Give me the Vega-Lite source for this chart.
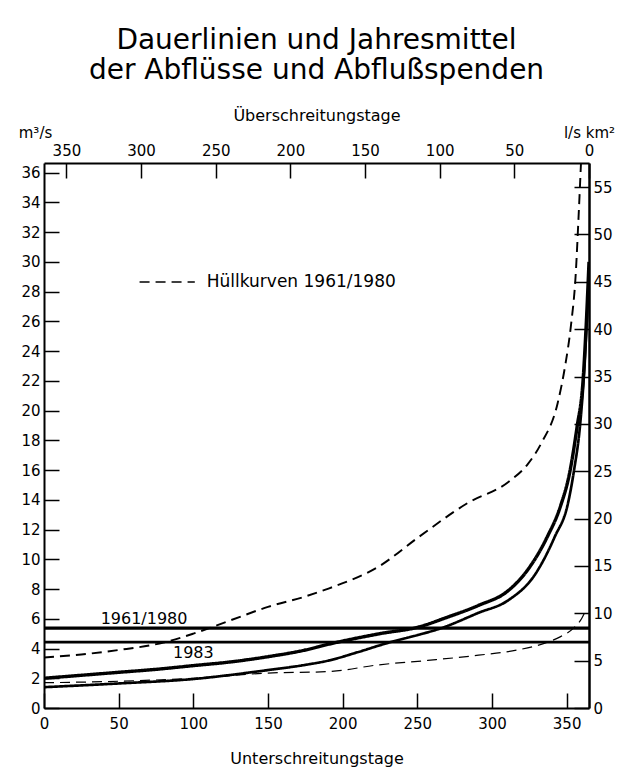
{
  "$schema": "https://vega.github.io/schema/vega-lite/v6.json",
  "width": 545,
  "height": 545,
  "autosize": {"type": "none"},
  "padding": {"left": 44, "top": 163, "right": 48, "bottom": 69},
  "background": "white",
  "title": {
    "text": ["Dauerlinien und Jahresmittel", "der Abflüsse und Abflußspenden"],
    "font": "DejaVu Sans",
    "fontSize": 28,
    "fontWeight": "normal",
    "lineHeight": 30,
    "anchor": "middle",
    "offset": 22,
    "color": "black"
  },
  "config": {
    "view": {"stroke": null},
    "font": "DejaVu Sans",
    "axis": {
      "grid": false,
      "domainColor": "black",
      "domainWidth": 2,
      "tickColor": "black",
      "tickWidth": 1.5,
      "tickSize": -15,
      "labelFont": "DejaVu Sans",
      "labelFontSize": 15,
      "labelColor": "black",
      "labelFlush": false,
      "labelOverlap": false,
      "titleFont": "DejaVu Sans",
      "titleFontSize": 16,
      "titleFontWeight": "normal",
      "titleColor": "black"
    }
  },
  "datasets": {
    "curves": [
      {"series": "Mittel 1961/1980", "day": 0, "q": 2.0},
      {"series": "Mittel 1961/1980", "day": 25, "q": 2.2},
      {"series": "Mittel 1961/1980", "day": 50, "q": 2.4},
      {"series": "Mittel 1961/1980", "day": 75, "q": 2.6},
      {"series": "Mittel 1961/1980", "day": 100, "q": 2.85},
      {"series": "Mittel 1961/1980", "day": 125, "q": 3.1},
      {"series": "Mittel 1961/1980", "day": 150, "q": 3.45},
      {"series": "Mittel 1961/1980", "day": 175, "q": 3.9},
      {"series": "Mittel 1961/1980", "day": 191, "q": 4.3},
      {"series": "Mittel 1961/1980", "day": 200, "q": 4.5},
      {"series": "Mittel 1961/1980", "day": 225, "q": 5.0},
      {"series": "Mittel 1961/1980", "day": 251, "q": 5.45},
      {"series": "Mittel 1961/1980", "day": 270, "q": 6.1},
      {"series": "Mittel 1961/1980", "day": 291, "q": 6.9},
      {"series": "Mittel 1961/1980", "day": 311, "q": 7.9},
      {"series": "Mittel 1961/1980", "day": 324, "q": 9.3},
      {"series": "Mittel 1961/1980", "day": 337, "q": 11.5},
      {"series": "Mittel 1961/1980", "day": 346, "q": 13.6},
      {"series": "Mittel 1961/1980", "day": 352, "q": 15.8},
      {"series": "Mittel 1961/1980", "day": 357, "q": 18.9},
      {"series": "Mittel 1961/1980", "day": 361, "q": 22},
      {"series": "Mittel 1961/1980", "day": 363, "q": 25.5},
      {"series": "Mittel 1961/1980", "day": 365, "q": 30},
      {"series": "1983", "day": 0, "q": 1.4},
      {"series": "1983", "day": 50, "q": 1.65},
      {"series": "1983", "day": 100, "q": 1.95},
      {"series": "1983", "day": 150, "q": 2.55},
      {"series": "1983", "day": 175, "q": 2.9},
      {"series": "1983", "day": 191, "q": 3.2},
      {"series": "1983", "day": 210, "q": 3.75},
      {"series": "1983", "day": 231, "q": 4.4},
      {"series": "1983", "day": 250, "q": 4.9},
      {"series": "1983", "day": 264, "q": 5.3},
      {"series": "1983", "day": 291, "q": 6.4},
      {"series": "1983", "day": 311, "q": 7.25},
      {"series": "1983", "day": 329, "q": 9.0},
      {"series": "1983", "day": 342, "q": 11.5},
      {"series": "1983", "day": 351, "q": 13.8},
      {"series": "1983", "day": 355, "q": 16},
      {"series": "1983", "day": 359, "q": 19},
      {"series": "1983", "day": 362, "q": 23},
      {"series": "1983", "day": 364, "q": 27},
      {"series": "1983", "day": 365, "q": 29},
      {"series": "Hüllkurve oben", "day": 0, "q": 3.4},
      {"series": "Hüllkurve oben", "day": 25, "q": 3.6},
      {"series": "Hüllkurve oben", "day": 50, "q": 3.9},
      {"series": "Hüllkurve oben", "day": 80, "q": 4.4},
      {"series": "Hüllkurve oben", "day": 100, "q": 5.0},
      {"series": "Hüllkurve oben", "day": 125, "q": 5.9},
      {"series": "Hüllkurve oben", "day": 150, "q": 6.8},
      {"series": "Hüllkurve oben", "day": 175, "q": 7.5},
      {"series": "Hüllkurve oben", "day": 191, "q": 8.05},
      {"series": "Hüllkurve oben", "day": 224, "q": 9.5},
      {"series": "Hüllkurve oben", "day": 251, "q": 11.5},
      {"series": "Hüllkurve oben", "day": 284, "q": 13.8},
      {"series": "Hüllkurve oben", "day": 311, "q": 15.2},
      {"series": "Hüllkurve oben", "day": 324, "q": 16.4},
      {"series": "Hüllkurve oben", "day": 333, "q": 17.8},
      {"series": "Hüllkurve oben", "day": 344, "q": 20.5},
      {"series": "Hüllkurve oben", "day": 349, "q": 23},
      {"series": "Hüllkurve oben", "day": 353, "q": 25.8},
      {"series": "Hüllkurve oben", "day": 356, "q": 29},
      {"series": "Hüllkurve oben", "day": 358, "q": 33},
      {"series": "Hüllkurve oben", "day": 360, "q": 37.5},
      {"series": "Hüllkurve unten", "day": 0, "q": 1.7},
      {"series": "Hüllkurve unten", "day": 50, "q": 1.8},
      {"series": "Hüllkurve unten", "day": 100, "q": 2.0},
      {"series": "Hüllkurve unten", "day": 150, "q": 2.35},
      {"series": "Hüllkurve unten", "day": 191, "q": 2.45},
      {"series": "Hüllkurve unten", "day": 224, "q": 2.9},
      {"series": "Hüllkurve unten", "day": 257, "q": 3.2},
      {"series": "Hüllkurve unten", "day": 291, "q": 3.55},
      {"series": "Hüllkurve unten", "day": 317, "q": 3.9},
      {"series": "Hüllkurve unten", "day": 335, "q": 4.35},
      {"series": "Hüllkurve unten", "day": 346, "q": 4.8},
      {"series": "Hüllkurve unten", "day": 355, "q": 5.4},
      {"series": "Hüllkurve unten", "day": 360, "q": 6.0},
      {"series": "Hüllkurve unten", "day": 363, "q": 6.6}
    ],
    "means": [
      {"series": "Mittel 1961/1980", "day0": 0, "day1": 365, "q": 5.37},
      {"series": "1983", "day0": 0, "day1": 365, "q": 4.43}
    ],
    "labels": [
      {"label": "1961/1980", "day": 67, "q": 5.65},
      {"label": "1983", "day": 100, "q": 3.36}
    ],
    "legendline": [
      {"day": 64, "q": 28.65},
      {"day": 101, "q": 28.65}
    ],
    "legendtext": [
      {"label": "Hüllkurven 1961/1980", "day": 109, "q": 28.3}
    ],
    "topaxis": [
      {"ueb": 0},
      {"ueb": 365}
    ],
    "rightaxis": [
      {"spende": 0},
      {"spende": 57.55}
    ]
  },
  "layer": [
    {
      "layer": [
        {
          "data": {"name": "curves"},
          "mark": {"type": "line", "color": "black", "clip": true, "strokeCap": "butt", "interpolate": "monotone"},
          "encoding": {
            "x": {
              "field": "day", "type": "quantitative",
              "scale": {"domain": [0, 365], "nice": false, "zero": false},
              "axis": {"orient": "bottom", "values": [0, 50, 100, 150, 200, 250, 300, 350], "labelPadding": 23, "labelOverlap": false, "title": "Unterschreitungstage", "titleY": 55, "titleBaseline": "alphabetic", "titleFontSize": 16}
            },
            "y": {
              "field": "q", "type": "quantitative",
              "scale": {"domain": [0, 36.65], "nice": false, "zero": false},
              "axis": {"orient": "left", "values": [0, 2, 4, 6, 8, 10, 12, 14, 16, 18, 20, 22, 24, 26, 28, 30, 32, 34, 36], "labelPadding": 19, "labelOverlap": false, "title": "m³/s", "titleAngle": 0, "titleX": -9, "titleY": -26, "titleAlign": "center", "titleBaseline": "alphabetic", "titleFontSize": 15}
            },
            "detail": {"field": "series"},
            "strokeWidth": {
              "field": "series", "type": "nominal",
              "scale": {"domain": ["Mittel 1961/1980", "1983", "Hüllkurve oben", "Hüllkurve unten"], "range": [3.4, 1.2, 1.5, 1.5]},
              "legend": null
            },
            "strokeDash": {
              "field": "series", "type": "nominal",
              "scale": {"domain": ["Mittel 1961/1980", "1983", "Hüllkurve oben", "Hüllkurve unten"], "range": [[1, 0], [1, 0], [10, 6], [10, 6]]},
              "legend": null
            }
          }
        },
        {
          "data": {"name": "means"},
          "mark": {"type": "rule", "color": "black"},
          "encoding": {
            "x": {
              "field": "day0", "type": "quantitative",
              "scale": {"domain": [0, 365], "nice": false, "zero": false},
              "axis": {"orient": "bottom", "values": [0, 50, 100, 150, 200, 250, 300, 350], "labelPadding": 23, "labelOverlap": false, "title": "Unterschreitungstage", "titleY": 55, "titleBaseline": "alphabetic", "titleFontSize": 16}
            },
            "x2": {"field": "day1"},
            "y": {
              "field": "q", "type": "quantitative",
              "scale": {"domain": [0, 36.65], "nice": false, "zero": false},
              "axis": {"orient": "left", "values": [0, 2, 4, 6, 8, 10, 12, 14, 16, 18, 20, 22, 24, 26, 28, 30, 32, 34, 36], "labelPadding": 19, "labelOverlap": false, "title": "m³/s", "titleAngle": 0, "titleX": -9, "titleY": -26, "titleAlign": "center", "titleBaseline": "alphabetic", "titleFontSize": 15}
            },
            "strokeWidth": {
              "field": "series", "type": "nominal",
              "scale": {"domain": ["Mittel 1961/1980", "1983"], "range": [3.6, 1.2]},
              "legend": null
            }
          }
        },
        {
          "data": {"name": "labels"},
          "mark": {"type": "text", "color": "black", "font": "DejaVu Sans", "fontSize": 16, "align": "center", "baseline": "alphabetic"},
          "encoding": {
            "x": {
              "field": "day", "type": "quantitative",
              "scale": {"domain": [0, 365], "nice": false, "zero": false},
              "axis": {"orient": "bottom", "values": [0, 50, 100, 150, 200, 250, 300, 350], "labelPadding": 23, "labelOverlap": false, "title": "Unterschreitungstage", "titleY": 55, "titleBaseline": "alphabetic", "titleFontSize": 16}
            },
            "y": {
              "field": "q", "type": "quantitative",
              "scale": {"domain": [0, 36.65], "nice": false, "zero": false},
              "axis": {"orient": "left", "values": [0, 2, 4, 6, 8, 10, 12, 14, 16, 18, 20, 22, 24, 26, 28, 30, 32, 34, 36], "labelPadding": 19, "labelOverlap": false, "title": "m³/s", "titleAngle": 0, "titleX": -9, "titleY": -26, "titleAlign": "center", "titleBaseline": "alphabetic", "titleFontSize": 15}
            },
            "text": {"field": "label"}
          }
        },
        {
          "data": {"name": "legendline"},
          "mark": {"type": "line", "color": "black", "strokeWidth": 1.5, "strokeDash": [10, 6]},
          "encoding": {
            "x": {
              "field": "day", "type": "quantitative",
              "scale": {"domain": [0, 365], "nice": false, "zero": false},
              "axis": {"orient": "bottom", "values": [0, 50, 100, 150, 200, 250, 300, 350], "labelPadding": 23, "labelOverlap": false, "title": "Unterschreitungstage", "titleY": 55, "titleBaseline": "alphabetic", "titleFontSize": 16}
            },
            "y": {
              "field": "q", "type": "quantitative",
              "scale": {"domain": [0, 36.65], "nice": false, "zero": false},
              "axis": {"orient": "left", "values": [0, 2, 4, 6, 8, 10, 12, 14, 16, 18, 20, 22, 24, 26, 28, 30, 32, 34, 36], "labelPadding": 19, "labelOverlap": false, "title": "m³/s", "titleAngle": 0, "titleX": -9, "titleY": -26, "titleAlign": "center", "titleBaseline": "alphabetic", "titleFontSize": 15}
            }
          }
        },
        {
          "data": {"name": "legendtext"},
          "mark": {"type": "text", "color": "black", "font": "DejaVu Sans", "fontSize": 17, "align": "left", "baseline": "alphabetic"},
          "encoding": {
            "x": {
              "field": "day", "type": "quantitative",
              "scale": {"domain": [0, 365], "nice": false, "zero": false},
              "axis": {"orient": "bottom", "values": [0, 50, 100, 150, 200, 250, 300, 350], "labelPadding": 23, "labelOverlap": false, "title": "Unterschreitungstage", "titleY": 55, "titleBaseline": "alphabetic", "titleFontSize": 16}
            },
            "y": {
              "field": "q", "type": "quantitative",
              "scale": {"domain": [0, 36.65], "nice": false, "zero": false},
              "axis": {"orient": "left", "values": [0, 2, 4, 6, 8, 10, 12, 14, 16, 18, 20, 22, 24, 26, 28, 30, 32, 34, 36], "labelPadding": 19, "labelOverlap": false, "title": "m³/s", "titleAngle": 0, "titleX": -9, "titleY": -26, "titleAlign": "center", "titleBaseline": "alphabetic", "titleFontSize": 15}
            },
            "text": {"field": "label"}
          }
        }
      ]
    },
    {
      "data": {"name": "topaxis"},
      "mark": {"type": "rule", "opacity": 0},
      "encoding": {
        "x": {
          "field": "ueb", "type": "quantitative",
          "scale": {"domain": [0, 365], "reverse": true, "nice": false, "zero": false},
          "axis": {"orient": "top", "values": [0, 50, 100, 150, 200, 250, 300, 350], "labelPadding": 20, "labelOverlap": false, "title": "Überschreitungstage", "titleY": -43, "titleBaseline": "alphabetic", "titleFontSize": 16}
        }
      }
    },
    {
      "data": {"name": "rightaxis"},
      "mark": {"type": "rule", "opacity": 0},
      "encoding": {
        "y": {
          "field": "spende", "type": "quantitative",
          "scale": {"domain": [0, 57.55], "nice": false, "zero": false},
          "axis": {"orient": "right", "values": [0, 5, 10, 15, 20, 25, 30, 35, 40, 45, 50, 55], "labelPadding": 19, "labelOverlap": false, "domainWidth": 2.5, "title": "l/s km²", "titleAngle": 0, "titleX": 0, "titleY": -26, "titleAlign": "center", "titleBaseline": "alphabetic", "titleFontSize": 15}
        }
      }
    }
  ],
  "resolve": {
    "scale": {"x": "independent", "y": "independent"},
    "axis": {"x": "independent", "y": "independent"}
  }
}
